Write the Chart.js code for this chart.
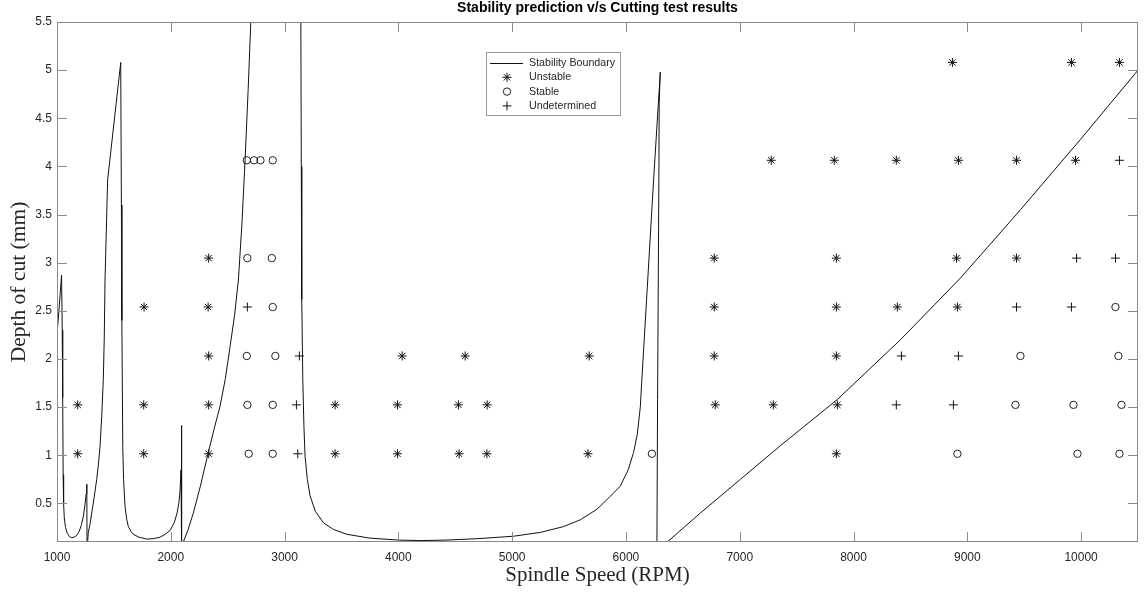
<!DOCTYPE html>
<html>
<head>
<meta charset="utf-8">
<script src="https://cdn.jsdelivr.net/npm/chart.js@4/dist/chart.umd.min.js"></script>
<style>
    html, body { margin: 0; padding: 0; background: #fff; }
</style>
</head>
<body>
<canvas id="chart" width="1144" height="592"></canvas>
<script>
// stability lobe (null = break in the line)
const boundaryRpm = [
    1000, 1020, 1040, 1046, 1050, 1054, 1058, 1064, 1075, 1090, 1110, 1130, 1150, 1170, 1195, 1215, 1232, 1246, 1256, 1262, 1264,
    1268, 1275, 1290, 1305, 1325, 1349, 1365, 1378, 1393, 1407, 1415, 1422, 1445, 1560,
    1566, 1570, 1578, 1585, 1598, 1612, 1627, 1650, 1671, 1720, 1789, 1850, 1906, 1950, 1994, 2030, 2055, 2070, 2081, 2090, 2096, 2094,
    2106, 2110, 2150, 2198, 2260, 2330, 2380, 2433, 2480, 2521, 2560, 2594, 2625, 2653, 2680, 2703, 2720,
    3140, 3143, 3147, 3151, 3160, 3170, 3180, 3200, 3224, 3270, 3341, 3430, 3547, 3750, 4000, 4200, 4426, 4700, 5012, 5250, 5452,
    5598, 5745, 5850, 5950, 6020, 6067, 6100, 6126, 6140, 6185, 6243, 6302, 6292, 6290, 6278, 6272,
    6300,
    6363, 6653, 7005, 7357, 7858, 8412, 8939, 9467, 9994, 10500
];
const boundaryDepth = [
    2.25, 2.55, 2.87, 2.3, 1.6, 0.8, 0.5, 0.35, 0.25, 0.19, 0.155, 0.145, 0.15, 0.165, 0.21, 0.28, 0.37, 0.49, 0.6, 0.70, 0.0,
    0.0, 0.2, 0.28, 0.40, 0.55, 0.75, 0.92, 1.09, 1.4, 1.79, 2.2, 2.82, 3.86, 5.08,
    3.6, 2.4, 1.09, 0.75, 0.47, 0.34, 0.26, 0.21, 0.18, 0.15, 0.13, 0.135, 0.15, 0.18, 0.22, 0.3, 0.4, 0.5, 0.62, 0.85, 1.31, 0.0,
    0.0, 0.1, 0.22, 0.40, 0.68, 1.03, 1.27, 1.51, 1.80, 2.13, 2.45, 2.82, 3.4, 4.07, 4.8, 5.5, 6.0,
    6.0, 5.5, 4.0, 2.62, 1.79, 1.3, 0.99, 0.75, 0.58, 0.42, 0.30, 0.23, 0.18, 0.14, 0.12, 0.115, 0.12, 0.135, 0.16, 0.2, 0.26,
    0.33, 0.44, 0.56, 0.68, 0.85, 1.03, 1.22, 1.5, 1.79, 2.69, 3.86, 4.98, 4.66, 4.0, 1.58, 0.0,
    null,
    0.1, 0.40, 0.75, 1.10, 1.58, 2.20, 2.84, 3.55, 4.28, 5.0
];

// cutting tests
const unstableRpm = [
    1182, 1762, 2333, 3444, 3992, 4534, 4778, 5666, 7849,
    1182, 1762, 2333, 3444, 3992, 4528, 4780, 6785, 7295, 7858,
    2333, 4033, 4587, 5677, 6776, 7849,
    1765, 2328, 6776, 7849, 8385, 8913,
    2333, 6776, 7849, 8905, 9432,
    7277, 7831, 8376, 8922, 9432, 9951,
    8869, 9915, 10337
];
const unstableDepth = [
    1.016, 1.016, 1.016, 1.016, 1.016, 1.016, 1.016, 1.016, 1.016,
    1.524, 1.524, 1.524, 1.524, 1.524, 1.524, 1.524, 1.524, 1.524, 1.524,
    2.032, 2.032, 2.032, 2.032, 2.032, 2.032,
    2.54, 2.54, 2.54, 2.54, 2.54, 2.54,
    3.048, 3.048, 3.048, 3.048, 3.048,
    4.064, 4.064, 4.064, 4.064, 4.064, 4.064,
    5.08, 5.08, 5.08
];
const stableRpm = [
    2685, 2896, 6228, 8913, 9968, 10337,
    2673, 2896, 9423, 9933, 10355,
    2668, 2919, 9467, 10328,
    2896, 10302,
    2673, 2888,
    2668, 2732, 2788, 2896
];
const stableDepth = [
    1.016, 1.016, 1.016, 1.016, 1.016, 1.016,
    1.524, 1.524, 1.524, 1.524, 1.524,
    2.032, 2.032, 2.032, 2.032,
    2.54, 2.54,
    3.048, 3.048,
    4.064, 4.064, 4.064, 4.064
];
const undeterminedRpm = [3116, 3104, 8376, 8878, 3130, 8421, 8922, 2673, 9432, 9915, 9960, 10302, 10337];
const undeterminedDepth = [1.016, 1.524, 1.524, 1.524, 2.032, 2.032, 2.032, 2.54, 2.54, 2.54, 3.048, 3.048, 4.064];

const xTicks = [1000, 2000, 3000, 4000, 5000, 6000, 7000, 8000, 9000, 10000];
const yTicks = [0.5, 1, 1.5, 2, 2.5, 3, 3.5, 4, 4.5, 5, 5.5];

const sans = "'Liberation Sans', Arial, sans-serif";
const serif = "'Liberation Serif', 'Times New Roman', serif";
const axisColor = '#8a8a8a';
const textColor = '#262626';

const toXY = (xs, ys) => xs.map((x, i) => ({x: x, y: ys[i]}));

const data = {
    datasets: [
        {
            label: 'Stability Boundary',
            data: toXY(boundaryRpm, boundaryDepth),
            showLine: true,
            spanGaps: false,
            borderColor: '#111',
            borderWidth: 1,
            pointRadius: 0,
            fill: false
        },
        {
            label: 'Unstable',
            data: toXY(unstableRpm, unstableDepth),
            pointStyle: 'star',
            pointRadius: 4.5,
            borderColor: '#111',
            backgroundColor: 'rgba(0,0,0,0)',
            borderWidth: 1
        },
        {
            label: 'Stable',
            data: toXY(stableRpm, stableDepth),
            pointStyle: 'circle',
            pointRadius: 3.7,
            borderColor: '#222',
            backgroundColor: 'rgba(0,0,0,0)',
            borderWidth: 1
        },
        {
            label: 'Undetermined',
            data: toXY(undeterminedRpm, undeterminedDepth),
            pointStyle: 'cross',
            pointRadius: 4.5,
            borderColor: '#111',
            backgroundColor: 'rgba(0,0,0,0)',
            borderWidth: 1
        }
    ]
};

// box round the axes with inward ticks on all four sides
const boxPlugin = {
    id: 'box',
    afterDatasetsDraw(chart) {
        const {ctx, chartArea: a, scales: {x, y}} = chart;
        ctx.save();
        ctx.strokeStyle = axisColor;
        ctx.lineWidth = 1;
        ctx.strokeRect(a.left + 0.5, a.top + 0.5, a.right - a.left - 1, a.bottom - a.top - 1);
        ctx.beginPath();
        xTicks.forEach(v => {
            const px = Math.round(x.getPixelForValue(v)) + 0.5;
            ctx.moveTo(px, a.bottom);
            ctx.lineTo(px, a.bottom - 10);
            ctx.moveTo(px, a.top);
            ctx.lineTo(px, a.top + 10);
        });
        yTicks.forEach(v => {
            const py = Math.round(y.getPixelForValue(v)) + 0.5;
            ctx.moveTo(a.left, py);
            ctx.lineTo(a.left + 10, py);
            ctx.moveTo(a.right, py);
            ctx.lineTo(a.right - 10, py);
        });
        ctx.stroke();
        ctx.restore();
    }
};

// matlab style legend box inside the axes
const legendPlugin = {
    id: 'boxLegend',
    afterDraw(chart) {
        const ctx = chart.ctx;
        const left = 486, top = 52, w = 134, h = 63;
        ctx.save();
        ctx.fillStyle = '#fff';
        ctx.fillRect(left, top, w, h);
        ctx.strokeStyle = '#999';
        ctx.lineWidth = 1;
        ctx.strokeRect(left + 0.5, top + 0.5, w, h);
        ctx.font = '10.7px ' + sans;
        ctx.textBaseline = 'middle';
        ctx.textAlign = 'left';
        chart.data.datasets.forEach((ds, i) => {
            const cy = top + 11 + i * 14.3;
            if (ds.showLine) {
                ctx.strokeStyle = '#111';
                ctx.beginPath();
                ctx.moveTo(490, Math.round(cy) + 0.5);
                ctx.lineTo(523, Math.round(cy) + 0.5);
                ctx.stroke();
            } else {
                ctx.fillStyle = 'rgba(0,0,0,0)';
                ctx.strokeStyle = ds.borderColor;
                ctx.lineWidth = 1;
                Chart.helpers.drawPoint(ctx, {
                    pointStyle: ds.pointStyle,
                    radius: ds.pointRadius,
                    borderWidth: 1,
                    rotation: 0
                }, 507, cy);
            }
            ctx.fillStyle = textColor;
            ctx.fillText(ds.label, 529, cy);
        });
        ctx.restore();
    }
};

window.onload = function () {
    const ctx = document.getElementById('chart').getContext('2d');
    window.stabChart = new Chart(ctx, {
        type: 'scatter',
        data: data,
        plugins: [boxPlugin, legendPlugin],
        options: {
            responsive: false,
            animation: false,
            layout: {padding: {top: 0, right: 6, bottom: 0, left: 0}},
            plugins: {
                legend: {display: false},
                tooltip: {enabled: false},
                title: {
                    display: true,
                    text: 'Stability prediction v/s Cutting test results',
                    fullSize: false,
                    color: '#000',
                    font: {family: sans, size: 14, weight: 'bold', lineHeight: 1.2},
                    padding: {top: 0, bottom: 5.2}
                }
            },
            scales: {
                x: {
                    type: 'linear',
                    min: 1000,
                    max: 10500,
                    afterBuildTicks: s => { s.ticks = xTicks.map(v => ({value: v})); },
                    afterFit: s => { s.height = 50; },
                    grid: {display: false, drawTicks: false},
                    border: {display: false},
                    ticks: {
                        padding: 8,
                        color: textColor,
                        font: {family: sans, size: 12},
                        maxRotation: 0,
                        autoSkip: false,
                        callback: v => String(v)
                    },
                    title: {
                        display: true,
                        text: 'Spindle Speed (RPM)',
                        color: textColor,
                        font: {family: serif, size: 21},
                        padding: {top: 0, bottom: 4}
                    }
                },
                y: {
                    type: 'linear',
                    min: 0.1,
                    max: 5.5,
                    afterBuildTicks: s => { s.ticks = yTicks.map(v => ({value: v})); },
                    afterFit: s => { s.width = 57; },
                    grid: {display: false, drawTicks: false},
                    border: {display: false},
                    ticks: {
                        padding: 5,
                        color: textColor,
                        font: {family: sans, size: 12},
                        autoSkip: false,
                        callback: v => String(v)
                    },
                    title: {
                        display: true,
                        text: 'Depth of cut (mm)',
                        color: textColor,
                        font: {family: serif, size: 21.5},
                        padding: {top: 6, bottom: 0}
                    }
                }
            }
        }
    });
};
</script>
</body>
</html>
